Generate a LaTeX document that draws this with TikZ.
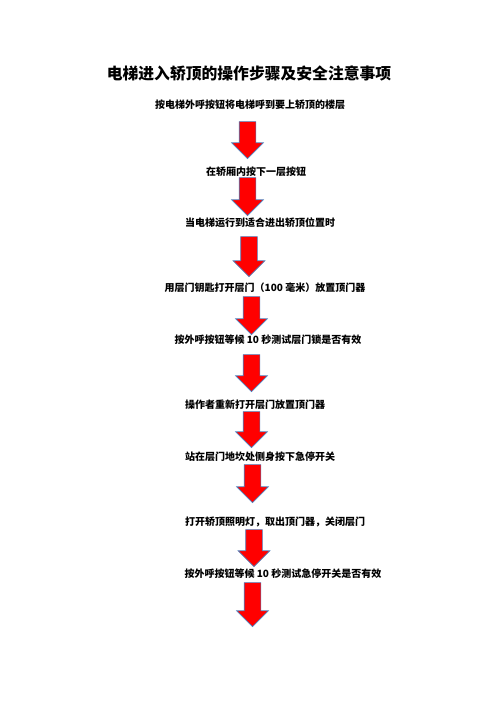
\documentclass[tikz,border=0pt]{standalone}
\usepackage{fontspec}
\usepackage{tikz}
\usetikzlibrary{shapes.arrows}
\newfontfamily\cjk{Noto Sans CJK SC}
\definecolor{arrowred}{RGB}{255,0,0}
\definecolor{arrowline}{RGB}{79,129,189}

\begin{document}
\begin{tikzpicture}[
            x = 1pt, y = -1pt, % one unit per pixel, y grows downwards
            font = \cjk\bfseries\fontsize{10}{12}\selectfont, % step text
            every node/.style={inner sep=0pt}
        ]

        \tikzstyle{title}=[
            font = \cjk\bfseries\fontsize{15.8}{18}\selectfont
        ]
        \tikzstyle{down arrow}=[
            single arrow,
            draw = arrowline,
            line width = 0.6pt,
            fill = arrowred,
            shape border rotate = 270,
            inner sep = 8pt, % half the shaft width
            single arrow head extend = 7.5pt,
            anchor = tip
        ]

        \useasboundingbox (0,0) rectangle (496,702);

        \node[title] (TITLE) at (249,73) {电梯进入轿顶的操作步骤及安全注意事项};

        \node (S1) at (250,105) {按电梯外呼按钮将电梯呼到要上轿顶的楼层};
        \node (S2) at (256,172) {在轿厢内按下一层按钮};
        \node (S3) at (260,223) {当电梯运行到适合进出轿顶位置时};
        \node (S4) at (265,288) {用层门钥匙打开层门（100 毫米）放置顶门器};
        \node (S5) at (268,340) {按外呼按钮等候 10 秒测试层门锁是否有效};
        \node (S6) at (255,405) {操作者重新打开层门放置顶门器};
        \node (S7) at (260,457) {站在层门地坎处侧身按下急停开关};
        \node (S8) at (275,522) {打开轿顶照明灯，取出顶门器，关闭层门};
        \node (S9) at (283,574) {按外呼按钮等候 10 秒测试急停开关是否有效};

        \node[down arrow, minimum height=37pt] (A1) at (247.5,159) {};
        \node[down arrow, minimum height=38pt] (A2) at (247.5,216) {};
        \node[down arrow, minimum height=40pt] (A3) at (249,277) {};
        \node[down arrow, minimum height=38pt] (A4) at (251.5,335) {};
        \node[down arrow, minimum height=37pt] (A5) at (251.5,392) {};
        \node[down arrow, minimum height=36pt] (A6) at (251.5,448) {};
        \node[down arrow, minimum height=38pt] (A7) at (252.5,503) {};
        \node[down arrow, minimum height=37pt] (A8) at (254,567) {};
        \node[down arrow, minimum height=44pt] (A9) at (252.5,627) {};

    \end{tikzpicture}
\end{document}
